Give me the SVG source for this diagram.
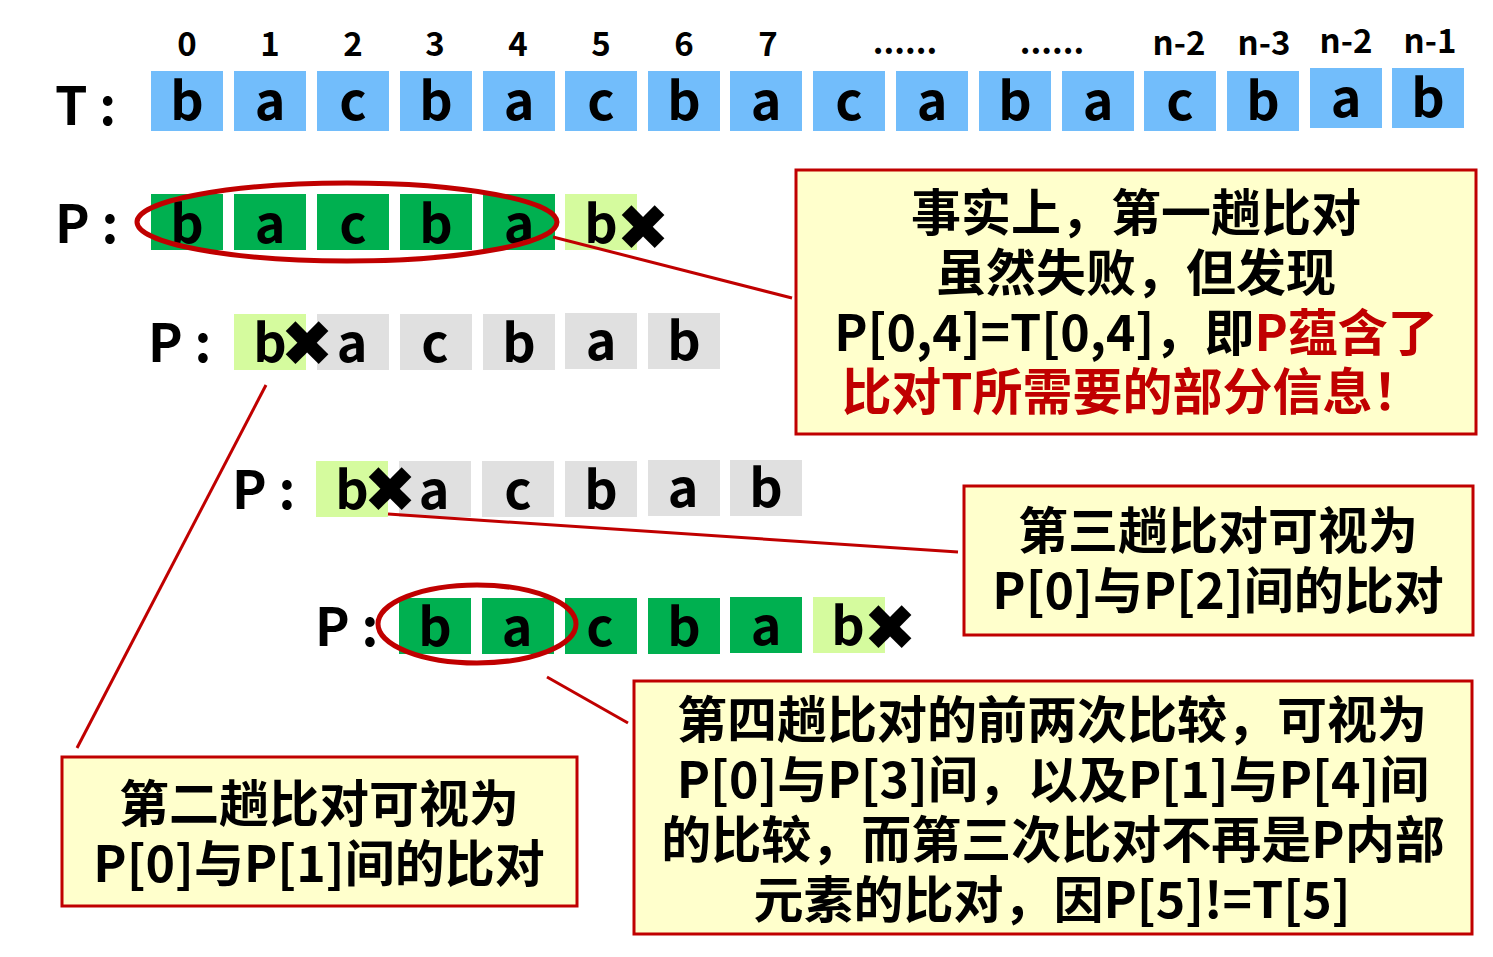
<svg xmlns="http://www.w3.org/2000/svg" width="1493" height="957" viewBox="0 0 1493 957">
<style>
text{font-family:"Noto Sans CJK SC","Noto Sans",sans-serif;font-weight:700;fill:#000}
.lt{font-size:52px;text-anchor:middle}
.lab{font-size:52px}
.idx{font-size:33px;text-anchor:middle}
.ct{font-size:50px;text-anchor:middle}
.red{fill:#C00000}
.x{font-family:"DejaVu Sans",sans-serif;font-size:64px;text-anchor:middle}
.tc{fill:#72BDFB}
.gc{fill:#00B050}
.lg{fill:#D5FB9E}
.gy{fill:#E0E0E0}
.box{fill:#FFFFCC;stroke:#C00000;stroke-width:3}
.ln{stroke:#C00000;stroke-width:3;fill:none}
.el{stroke:#C00000;stroke-width:5;fill:none}
</style>

<g id="t-row">
<text class="idx" x="187" y="56">0</text>
<text class="idx" x="270" y="56">1</text>
<text class="idx" x="353" y="56">2</text>
<text class="idx" x="435" y="56">3</text>
<text class="idx" x="518" y="56">4</text>
<text class="idx" x="601" y="56">5</text>
<text class="idx" x="684" y="56">6</text>
<text class="idx" x="768" y="56">7</text>
<text class="idx" x="905" y="54">......</text>
<text class="idx" x="1052" y="54">......</text>
<text class="idx" x="1179" y="55">n-2</text>
<text class="idx" x="1264" y="55">n-3</text>
<text class="idx" x="1346" y="53">n-2</text>
<text class="idx" x="1430" y="53">n-1</text>
<text class="lab" x="55" y="125">T :</text>
<rect class="tc" x="151" y="71" width="72" height="60"/>
<rect class="tc" x="234" y="71" width="72" height="60"/>
<rect class="tc" x="317" y="71" width="72" height="60"/>
<rect class="tc" x="400" y="71" width="72" height="60"/>
<rect class="tc" x="483" y="71" width="72" height="60"/>
<rect class="tc" x="565" y="71" width="72" height="60"/>
<rect class="tc" x="648" y="71" width="72" height="60"/>
<rect class="tc" x="730" y="71" width="72" height="60"/>
<rect class="tc" x="813" y="71" width="72" height="60"/>
<rect class="tc" x="896" y="71" width="72" height="60"/>
<rect class="tc" x="979" y="71" width="72" height="60"/>
<rect class="tc" x="1062" y="71" width="72" height="60"/>
<rect class="tc" x="1144" y="71" width="72" height="60"/>
<rect class="tc" x="1227" y="71" width="72" height="60"/>
<rect class="tc" x="1310" y="68" width="72" height="60"/>
<rect class="tc" x="1392" y="68" width="72" height="60"/>
<text class="lt" x="187" y="120">b</text>
<text class="lt" x="270" y="120">a</text>
<text class="lt" x="353" y="120">c</text>
<text class="lt" x="436" y="120">b</text>
<text class="lt" x="519" y="120">a</text>
<text class="lt" x="601" y="120">c</text>
<text class="lt" x="684" y="120">b</text>
<text class="lt" x="766" y="120">a</text>
<text class="lt" x="849" y="120">c</text>
<text class="lt" x="932" y="120">a</text>
<text class="lt" x="1015" y="120">b</text>
<text class="lt" x="1098" y="120">a</text>
<text class="lt" x="1180" y="120">c</text>
<text class="lt" x="1263" y="120">b</text>
<text class="lt" x="1346" y="117">a</text>
<text class="lt" x="1428" y="117">b</text>
</g>

<g id="p-row1">
<text class="lab" x="55" y="243">P :</text>
<rect class="gc" x="151" y="194" width="72" height="56"/>
<rect class="gc" x="234" y="194" width="72" height="56"/>
<rect class="gc" x="317" y="194" width="72" height="56"/>
<rect class="gc" x="400" y="194" width="72" height="56"/>
<rect class="gc" x="483" y="194" width="72" height="56"/>
<rect class="lg" x="565" y="194" width="72" height="56"/>
<text class="lt" x="187" y="243">b</text>
<text class="lt" x="270" y="243">a</text>
<text class="lt" x="353" y="243">c</text>
<text class="lt" x="436" y="243">b</text>
<text class="lt" x="519" y="243">a</text>
<text class="lt" x="601" y="243">b</text>
<text class="x" x="643" y="250">✖</text>
<ellipse class="el" cx="347" cy="222" rx="210" ry="39"/>
</g>

<g id="p-row2">
<text class="lab" x="148" y="362">P :</text>
<rect class="lg" x="234" y="314" width="72" height="56"/>
<rect class="gy" x="317" y="314" width="72" height="56"/>
<rect class="gy" x="400" y="314" width="72" height="56"/>
<rect class="gy" x="483" y="314" width="72" height="56"/>
<rect class="gy" x="565" y="313" width="72" height="56"/>
<rect class="gy" x="648" y="313" width="72" height="56"/>
<text class="lt" x="270" y="362">b</text>
<text class="lt" x="352" y="362">a</text>
<text class="lt" x="435" y="362">c</text>
<text class="lt" x="519" y="362">b</text>
<text class="lt" x="601" y="360">a</text>
<text class="lt" x="684" y="360">b</text>
<text class="x" x="307" y="366">✖</text>
</g>

<g id="p-row3">
<text class="lab" x="232" y="509">P :</text>
<rect class="lg" x="316" y="461" width="72" height="56"/>
<rect class="gy" x="399" y="461" width="72" height="56"/>
<rect class="gy" x="482" y="461" width="72" height="56"/>
<rect class="gy" x="565" y="461" width="72" height="56"/>
<rect class="gy" x="648" y="460" width="72" height="56"/>
<rect class="gy" x="730" y="460" width="72" height="56"/>
<text class="lt" x="352" y="509">b</text>
<text class="lt" x="434" y="509">a</text>
<text class="lt" x="518" y="509">c</text>
<text class="lt" x="601" y="509">b</text>
<text class="lt" x="683" y="507">a</text>
<text class="lt" x="766" y="507">b</text>
<text class="x" x="390" y="512">✖</text>
</g>

<g id="p-row4">
<text class="lab" x="315" y="646">P :</text>
<rect class="gc" x="399" y="598" width="72" height="56"/>
<rect class="gc" x="482" y="598" width="72" height="56"/>
<rect class="gc" x="565" y="598" width="72" height="56"/>
<rect class="gc" x="648" y="598" width="72" height="56"/>
<rect class="gc" x="730" y="597" width="72" height="56"/>
<rect class="lg" x="813" y="597" width="72" height="56"/>
<text class="lt" x="435" y="646">b</text>
<text class="lt" x="517" y="646">a</text>
<text class="lt" x="600" y="646">c</text>
<text class="lt" x="684" y="646">b</text>
<text class="lt" x="766" y="645">a</text>
<text class="lt" x="848" y="645">b</text>
<text class="x" x="890" y="650">✖</text>
<ellipse class="el" cx="477" cy="624" rx="99" ry="39"/>
</g>

<g id="connectors">
<line class="ln" x1="553" y1="237" x2="792" y2="298"/>
<line class="ln" x1="266" y1="385" x2="77" y2="748"/>
<line class="ln" x1="388" y1="514" x2="958" y2="552"/>
<line class="ln" x1="547" y1="677" x2="628" y2="723"/>
</g>

<g id="callout1">
<rect class="box" x="796" y="170" width="680" height="264"/>
<text class="ct" x="1136" y="231">事实上，第一趟比对</text>
<text class="ct" x="1136" y="291">虽然失败，但发现</text>
<text class="ct" x="1136" y="351">P[0,4]=T[0,4]，即<tspan class="red">P蕴含了</tspan></text>
<text class="ct red" x="1132" y="410">比对T所需要的部分信息！</text>
</g>

<g id="callout3">
<rect class="box" x="964" y="486" width="509" height="149"/>
<text class="ct" x="1218" y="549">第三趟比对可视为</text>
<text class="ct" x="1218" y="609">P[0]与P[2]间的比对</text>
</g>

<g id="callout4">
<rect class="box" x="634" y="681" width="838" height="253"/>
<text class="ct" x="1052" y="738">第四趟比对的前两次比较，可视为</text>
<text class="ct" x="1053" y="798">P[0]与P[3]间，以及P[1]与P[4]间</text>
<text class="ct" x="1053" y="858">的比较，而第三次比对不再是P内部</text>
<text class="ct" x="1052" y="918">元素的比对，因P[5]!=T[5]</text>
</g>

<g id="callout2">
<rect class="box" x="62" y="757" width="515" height="149"/>
<text class="ct" x="319" y="822">第二趟比对可视为</text>
<text class="ct" x="319" y="882">P[0]与P[1]间的比对</text>
</g>
</svg>
